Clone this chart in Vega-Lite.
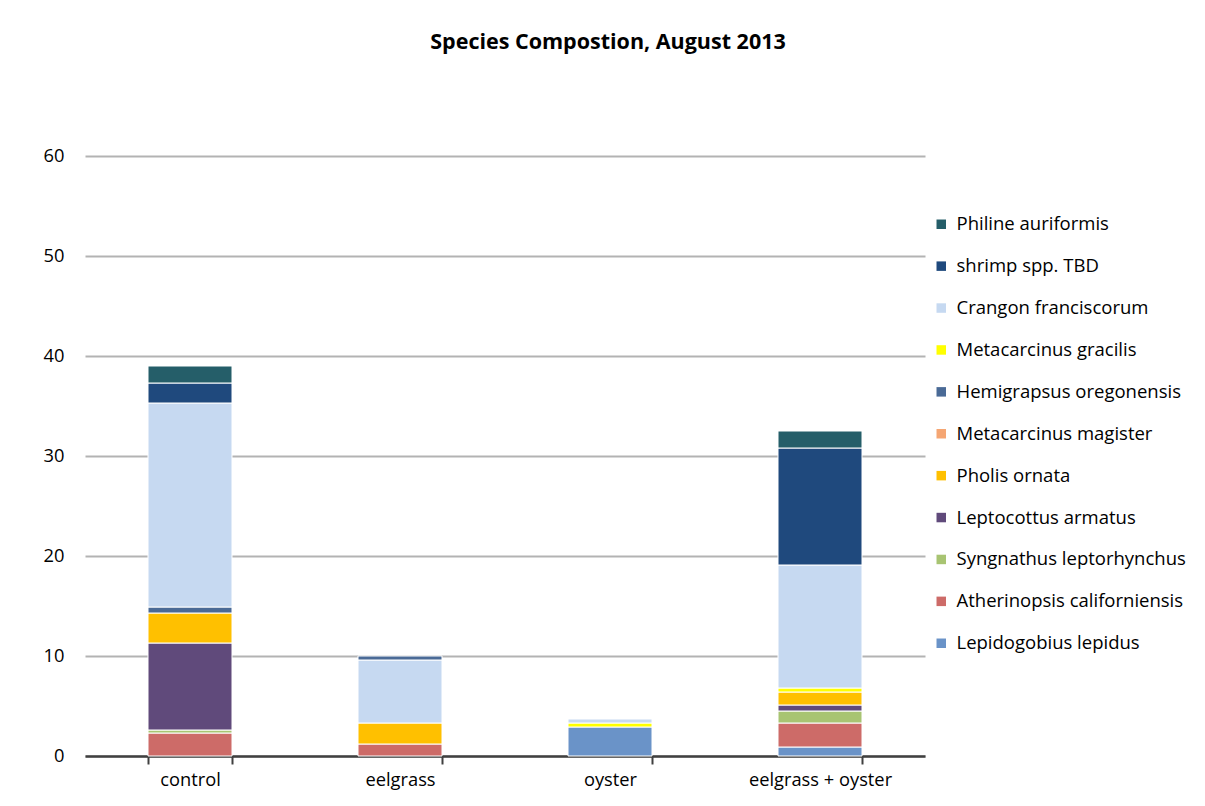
{
  "$schema": "https://vega.github.io/schema/vega-lite/v6.json",
  "width": 840,
  "height": 600,
  "autosize": {"type": "none"},
  "padding": {"left": 85, "top": 156, "right": 280, "bottom": 50},
  "background": "white",
  "title": {
    "text": "Species Compostion, August 2013",
    "font": "Open Sans",
    "fontSize": 21.5,
    "fontWeight": "bold",
    "color": "#000000",
    "anchor": "middle",
    "dx": 103,
    "offset": 93
  },
  "data": {
    "values": [
      {"site": "control", "species": "Atherinopsis californiensis", "n": 2.3, "rank": 2},
      {"site": "control", "species": "Syngnathus leptorhynchus", "n": 0.3, "rank": 3},
      {"site": "control", "species": "Leptocottus armatus", "n": 8.7, "rank": 4},
      {"site": "control", "species": " Pholis ornata", "n": 3.0, "rank": 5},
      {"site": "control", "species": "Hemigrapsus oregonensis", "n": 0.6, "rank": 7},
      {"site": "control", "species": "Crangon franciscorum", "n": 20.4, "rank": 9},
      {"site": "control", "species": "shrimp spp. TBD", "n": 2.0, "rank": 10},
      {"site": "control", "species": "Philine auriformis", "n": 1.7, "rank": 11},
      {"site": "eelgrass", "species": "Atherinopsis californiensis", "n": 1.2, "rank": 2},
      {"site": "eelgrass", "species": " Pholis ornata", "n": 2.1, "rank": 5},
      {"site": "eelgrass", "species": "Crangon franciscorum", "n": 6.3, "rank": 9},
      {"site": "eelgrass", "species": "Hemigrapsus oregonensis", "n": 0.4, "rank": 10},
      {"site": "oyster", "species": "Lepidogobius lepidus", "n": 2.9, "rank": 1},
      {"site": "oyster", "species": "Metacarcinus gracilis", "n": 0.4, "rank": 8},
      {"site": "oyster", "species": "Crangon franciscorum", "n": 0.4, "rank": 9},
      {"site": "eelgrass + oyster", "species": "Lepidogobius lepidus", "n": 0.9, "rank": 1},
      {"site": "eelgrass + oyster", "species": "Atherinopsis californiensis", "n": 2.4, "rank": 2},
      {"site": "eelgrass + oyster", "species": "Syngnathus leptorhynchus", "n": 1.2, "rank": 3},
      {"site": "eelgrass + oyster", "species": "Leptocottus armatus", "n": 0.6, "rank": 4},
      {"site": "eelgrass + oyster", "species": " Pholis ornata", "n": 1.3, "rank": 5},
      {"site": "eelgrass + oyster", "species": "Metacarcinus gracilis", "n": 0.4, "rank": 8},
      {"site": "eelgrass + oyster", "species": "Crangon franciscorum", "n": 12.3, "rank": 9},
      {"site": "eelgrass + oyster", "species": "shrimp spp. TBD", "n": 11.7, "rank": 10},
      {"site": "eelgrass + oyster", "species": "Philine auriformis", "n": 1.7, "rank": 11}
    ]
  },
  "mark": {"type": "bar", "stroke": "white", "strokeWidth": 1},
  "encoding": {
    "x": {
      "field": "site",
      "type": "nominal",
      "sort": ["control", "eelgrass", "oyster", "eelgrass + oyster"],
      "scale": {"paddingInner": 0.6, "paddingOuter": 0.3},
      "axis": {
        "title": null,
        "labelAngle": 0,
        "labelFont": "Open Sans",
        "labelFontSize": 18.3,
        "labelColor": "#000000",
        "labelPadding": 7,
        "domainColor": "#404040",
        "domainWidth": 2.5,
        "tickColor": "#404040",
        "tickWidth": 2,
        "tickSize": 8,
        "tickBand": "extent",
        "grid": false
      }
    },
    "y": {
      "field": "n",
      "type": "quantitative",
      "stack": "zero",
      "scale": {"domain": [0, 60]},
      "axis": {
        "title": null,
        "values": [0, 10, 20, 30, 40, 50, 60],
        "labelFont": "Open Sans",
        "labelFontSize": 18.3,
        "labelColor": "#000000",
        "labelPadding": 21,
        "domain": false,
        "ticks": false,
        "grid": true,
        "gridColor": "#B3B3B3",
        "gridWidth": 2
      }
    },
    "order": {"field": "rank", "type": "quantitative", "sort": "ascending"},
    "color": {
      "field": "species",
      "type": "nominal",
      "scale": {
        "domain": ["Philine auriformis", "shrimp spp. TBD", "Crangon franciscorum", "Metacarcinus gracilis", "Hemigrapsus oregonensis", "Metacarcinus magister", " Pholis ornata", "Leptocottus armatus", "Syngnathus leptorhynchus", "Atherinopsis californiensis", "Lepidogobius lepidus"],
        "range": ["#255E69", "#1F497D", "#C6D9F1", "#FFFF00", "#4A6A96", "#F5A673", "#FFC000", "#604A7B", "#A8C472", "#CD6B68", "#6A93C8"]
      },
      "legend": {
        "title": null,
        "orient": "none",
        "legendX": 847,
        "legendY": 59,
        "symbolType": "square",
        "symbolSize": 90,
        "symbolStrokeWidth": 0,
        "labelFont": "Open Sans",
        "labelFontSize": 18.5,
        "labelColor": "#000000",
        "labelOffset": 6,
        "rowPadding": 22.9,
        "labelLimit": 400
      }
    }
  },
  "config": {"view": {"stroke": null}}
}
